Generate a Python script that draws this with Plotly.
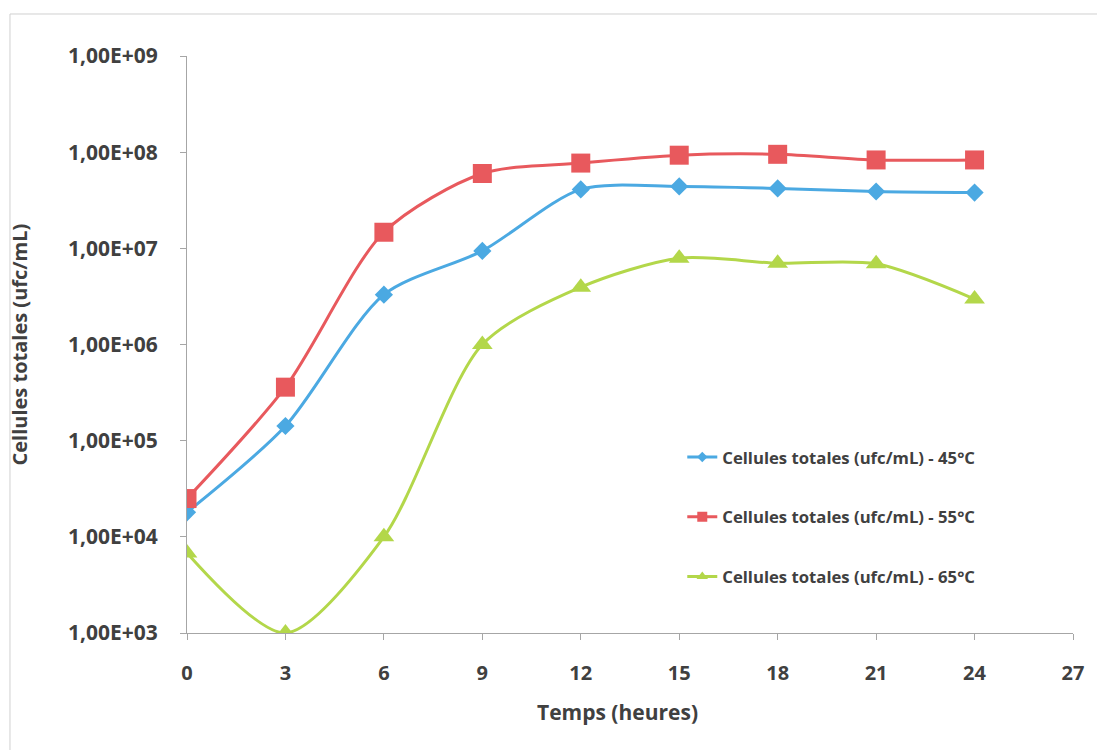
import plotly.graph_objects as go

hours = [0, 3, 6, 9, 12, 15, 18, 21, 24]
cells_45 = [1.8e4, 1.42e5, 3.3e6, 9.4e6, 4.1e7, 4.4e7, 4.2e7, 3.9e7, 3.8e7]
cells_55 = [2.5e4, 3.6e5, 1.47e7, 6.0e7, 7.7e7, 9.3e7, 9.5e7, 8.3e7, 8.3e7]
cells_65 = [6.8e3, 1.0e3, 1.0e4, 1.0e6, 3.95e6, 7.9e6, 7.0e6, 6.9e6, 2.97e6]

names = ["Cellules totales (ufc/mL) - 45°C",
         "Cellules totales (ufc/mL) - 55°C",
         "Cellules totales (ufc/mL) - 65°C"]
colors = ["#4BA9E2", "#E8595D", "#B3D74A"]
symbols = ["diamond", "square", "triangle-up"]
sizes = [14, 19, 18]
legend_sizes = [8, 10, 10]

ytickvals = [1e3, 1e4, 1e5, 1e6, 1e7, 1e8, 1e9]
yticktext = ["1,00E+03", "1,00E+04", "1,00E+05", "1,00E+06", "1,00E+07", "1,00E+08", "1,00E+09"]
xtickvals = [0, 3, 6, 9, 12, 15, 18, 21, 24, 27]

fig = go.Figure()
for i, ys in enumerate([cells_45, cells_55, cells_65]):
    fig.add_trace(go.Scatter(
        x=hours, y=ys, name=names[i], mode="lines+markers",
        line=dict(color=colors[i], width=3, shape="spline", smoothing=0.8),
        marker=dict(symbol=symbols[i], size=sizes[i], color=colors[i]),
        showlegend=False,
    ))
# legend entries (smaller markers, as in the original legend)
for i in range(3):
    fig.add_trace(go.Scatter(
        x=[None], y=[None], name=names[i], mode="lines+markers",
        line=dict(color=colors[i], width=3),
        marker=dict(symbol=symbols[i], size=legend_sizes[i], color=colors[i]),
        legendgroup=str(i), showlegend=True,
    ))

font_fam = "'Open Sans', sans-serif"
txt_color = "#404040"
fig.update_layout(
    width=1097, height=750,
    margin=dict(l=187, r=24, t=56, b=117),
    paper_bgcolor="white", plot_bgcolor="white",
    font=dict(family=font_fam, color=txt_color, size=20, weight="bold"),
    showlegend=True,
    legend=dict(x=0.559, y=0.335, xanchor="left", yanchor="top",
                font=dict(size=16.7, color=txt_color, weight="bold"),
                tracegroupgap=35, bgcolor="rgba(0,0,0,0)", itemwidth=30),
    xaxis=dict(range=[0, 27], tickvals=xtickvals, showgrid=False, zeroline=False,
               showline=True, linecolor="#A6A6A6", linewidth=1,
               ticks="outside", ticklen=6, tickcolor="#A6A6A6",
               ticklabelstandoff=16,
               tickfont=dict(size=20, weight="bold")),
    yaxis=dict(type="log", range=[3, 9], tickvals=ytickvals, ticktext=yticktext,
               showgrid=False, zeroline=False, showline=True, linecolor="#A6A6A6",
               linewidth=1, ticks="outside", ticklen=6, tickcolor="#A6A6A6",
               ticklabelstandoff=18,
               tickfont=dict(size=21, weight="bold")),
)
fig.add_annotation(text="Temps (heures)", xref="paper", yref="paper", x=0.5, y=0,
                   xshift=-13, yshift=-79, showarrow=False, yanchor="middle",
                   font=dict(size=21, color=txt_color, weight="bold"))
fig.add_annotation(text="Cellules totales (ufc/mL)", xref="paper", yref="paper", x=0, y=0.5,
                   xshift=-168, showarrow=False, textangle=-90, xanchor="center",
                   font=dict(size=20, color=txt_color, weight="bold"))
fig.add_shape(type="rect", xref="paper", yref="paper",
              x0=-0.1998, x1=1.03, y0=-0.211, y1=1.0728,
              line=dict(color="#D0D0D0", width=1), fillcolor="rgba(0,0,0,0)", layer="below")

fig.write_html("out.html")
